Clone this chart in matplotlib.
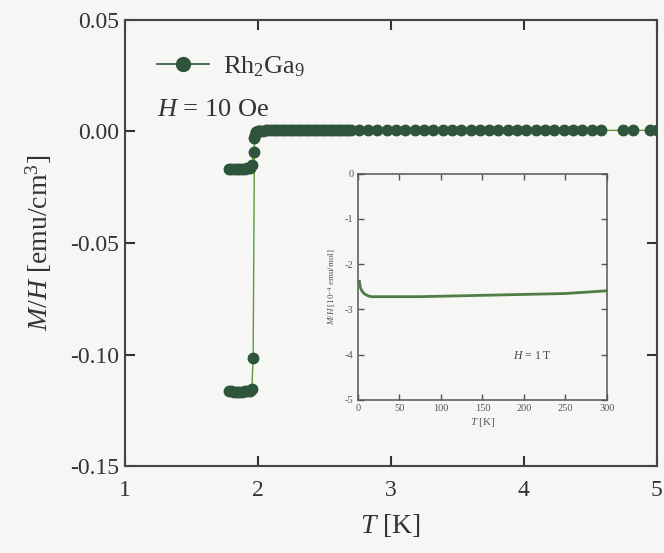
import numpy as np
import matplotlib.pyplot as plt

plt.rcParams['font.family'] = 'Liberation Serif'
plt.rcParams['mathtext.fontset'] = 'custom'
plt.rcParams['mathtext.rm'] = 'Liberation Serif'
plt.rcParams['mathtext.it'] = 'Liberation Serif:italic'
plt.rcParams['axes.unicode_minus'] = False

# ZFC branch (10 Oe)
T_zfc = [1.78, 1.80, 1.82, 1.84, 1.86, 1.88, 1.90, 1.92, 1.94, 1.955, 1.965, 1.975,
         1.99, 2.00, 2.02, 2.04, 2.06, 2.08, 2.10, 2.12, 2.14, 2.16, 2.18, 2.20,
         2.22, 2.24, 2.26, 2.28, 2.30, 2.32, 2.34, 2.36, 2.38, 2.40, 2.42, 2.44,
         2.46, 2.48, 2.50, 2.52, 2.54, 2.56, 2.58, 2.60, 2.62, 2.64, 2.66, 2.68,
         2.70, 2.76, 2.83, 2.90, 2.97, 3.04, 3.11, 3.18, 3.25, 3.32, 3.39, 3.46,
         3.53, 3.60, 3.67, 3.74, 3.81, 3.88, 3.95, 4.02, 4.09, 4.16, 4.23, 4.30,
         4.37, 4.44, 4.51, 4.58, 4.75, 4.82, 4.95, 5.00]
MH_zfc = [-0.1165, -0.1165, -0.1166, -0.1166, -0.1166, -0.1166, -0.1165, -0.1165, -0.1163, -0.1155, -0.1015, -0.003,
          -0.0003, 0.0, 0.0003, 0.0004, 0.0005, 0.0005, 0.0005, 0.0005, 0.0005, 0.0005, 0.0005, 0.0005,
          0.0005, 0.0005, 0.0005, 0.0005, 0.0005, 0.0005, 0.0005, 0.0005, 0.0005, 0.0005, 0.0005, 0.0005,
          0.0005, 0.0005, 0.0005, 0.0005, 0.0005, 0.0005, 0.0005, 0.0005, 0.0005, 0.0005, 0.0005, 0.0005,
          0.0005, 0.0005, 0.0005, 0.0005, 0.0005, 0.0005, 0.0005, 0.0005, 0.0005, 0.0005, 0.0005, 0.0005,
          0.0005, 0.0005, 0.0005, 0.0005, 0.0005, 0.0005, 0.0005, 0.0005, 0.0005, 0.0005, 0.0005, 0.0005,
          0.0005, 0.0005, 0.0005, 0.0005, 0.0005, 0.0005, 0.0005, 0.0005]

# FC branch (10 Oe)
T_fc = [1.78, 1.80, 1.82, 1.84, 1.86, 1.88, 1.90, 1.92, 1.94, 1.955, 1.97, 1.98, 1.99, 2.01]
MH_fc = [-0.0168, -0.0168, -0.0168, -0.0168, -0.0167, -0.0167, -0.0166, -0.0165, -0.0162, -0.0152,
         -0.0092, -0.0015, -0.0002, 0.0004]

# high field curve, H = 1 T
T_hf = [1.8, 3, 5, 8, 12, 16, 20, 30, 50, 75, 100, 125, 150, 175, 200, 225, 250, 275, 300]
MH_hf = [-2.38, -2.52, -2.60, -2.66, -2.70, -2.72, -2.72, -2.72, -2.72, -2.72, -2.71, -2.70,
         -2.69, -2.68, -2.67, -2.66, -2.65, -2.62, -2.59]

dark = '#2e553c'
txt = '#333333'

fig = plt.figure(figsize=(6.64, 5.53), dpi=100, facecolor='#f6f6f4')
ax = fig.add_axes([0.188, 0.157, 0.801, 0.807], facecolor='#f6f6f4')

ax.plot(T_zfc, MH_zfc, '-', color='#5e9a3c', lw=1.0, zorder=2)
ax.plot(T_zfc, MH_zfc, 'o', color=dark, ms=7.5, lw=0, zorder=3)
ax.plot(T_fc, MH_fc, '-', color='#5e9a3c', lw=1.0, zorder=2)
ax.plot(T_fc, MH_fc, 'o', color=dark, ms=7.5, lw=0, zorder=3)
ax.plot([], [], '-o', color=dark, ms=10, lw=1.2, label='Rh$_2$Ga$_9$')

ax.set_xlim(1, 5)
ax.set_ylim(-0.15, 0.05)
ax.set_xticks([1, 2, 3, 4, 5])
ax.set_yticks([-0.15, -0.10, -0.05, 0.00, 0.05])
ax.set_yticklabels(['-0.15', '-0.10', '-0.05', '0.00', '0.05'])
ax.tick_params(direction='in', length=7, width=1.5, labelsize=17, colors=txt,
               top=True, right=True, pad=4)
ax.tick_params(axis='x', pad=10)
for s in ax.spines.values():
    s.set_linewidth(1.5)
    s.set_color('#444444')
ax.set_xlabel('$T$ [K]', fontsize=20, color=txt, labelpad=8)
ax.set_ylabel('$M/H$ [emu/cm$^3$]', fontsize=20, color=txt, labelpad=12)

leg = ax.legend(loc='upper left', bbox_to_anchor=(0.02, 0.97), frameon=False,
                fontsize=19, handlelength=2.0, handletextpad=0.5, borderaxespad=0.4)
for t in leg.get_texts():
    t.set_color(txt)
ax.text(0.06, 0.785, '$H$ = 10 Oe', transform=ax.transAxes, fontsize=19, color=txt)

# inset
ins = fig.add_axes([0.539, 0.277, 0.375, 0.409], facecolor='#f6f6f4')
ins.plot(T_hf, MH_hf, '-', color='#4f7d46', lw=2.0)
ins.set_xlim(0, 300)
ins.set_ylim(-5, 0)
ins.set_xticks([0, 50, 100, 150, 200, 250, 300])
ins.set_yticks([0, -1, -2, -3, -4, -5])
ins.tick_params(direction='in', length=4, width=1.0, labelsize=7.5, colors='#555555',
                top=True, right=True, pad=3)
for s in ins.spines.values():
    s.set_linewidth(1.1)
    s.set_color('#555555')
ins.set_xlabel('$T$ [K]', fontsize=8, color='#555555', labelpad=2)
ins.set_ylabel('$M/H$ [10$^{-4}$ emu/mol]', fontsize=6.5, color='#555555', labelpad=5)
ins.text(187, -4.1, '$H$ = 1 T', fontsize=8.5, color='#444444')

fig.savefig('out.png', dpi=100, facecolor=fig.get_facecolor())
